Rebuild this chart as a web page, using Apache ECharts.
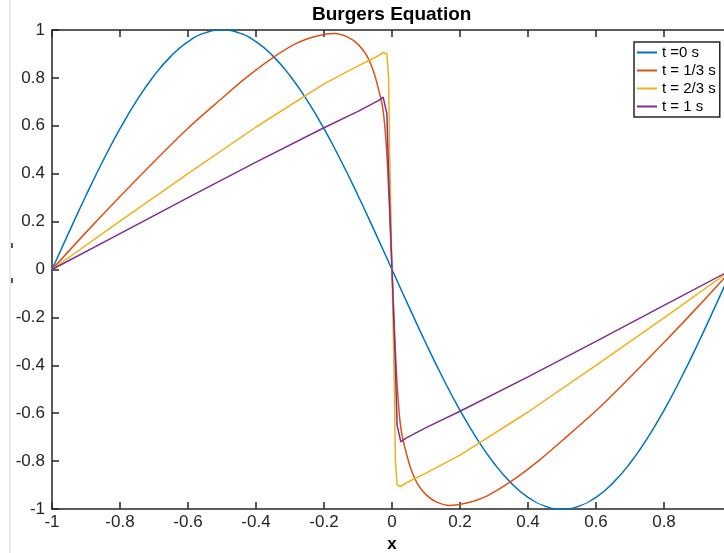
<!DOCTYPE html>
<html>
<head>
<meta charset="utf-8">
<title>Burgers Equation</title>
<script src="https://cdn.jsdelivr.net/npm/echarts@6/dist/echarts.min.js"></script>
<style>
    html, body { margin: 0; padding: 0; background: #fff; }
    #chart { width: 724px; height: 553px; }
</style>
</head>
<body>
<div id="chart"></div>
<script>
// 各时刻的解 u(x,t)
var seriesNames = ['t =0 s', 't = 1/3 s', 't = 2/3 s', 't = 1 s'];
var seriesColors = ['#0072BD', '#D95319', '#EDB120', '#7E2F8E'];

// t = 0
var x0 = [-1, -0.95, -0.9, -0.85, -0.8, -0.75, -0.7, -0.65, -0.6, -0.55, -0.5, -0.45, -0.4, -0.35, -0.3, -0.25, -0.2, -0.15, -0.1, -0.05, 0,
    0.05, 0.1, 0.15, 0.2, 0.25, 0.3, 0.35, 0.4, 0.45, 0.5, 0.55, 0.6, 0.65, 0.7, 0.75, 0.8, 0.85, 0.9, 0.95, 1];
var y0 = [0, 0.156, 0.309, 0.454, 0.588, 0.707, 0.809, 0.891, 0.951, 0.988, 1, 0.988, 0.951, 0.891, 0.809, 0.707, 0.588, 0.454, 0.309, 0.156, 0,
    -0.156, -0.309, -0.454, -0.588, -0.707, -0.809, -0.891, -0.951, -0.988, -1, -0.988, -0.951, -0.891, -0.809, -0.707, -0.588, -0.454, -0.309, -0.156, 0];

// t = 1/3
var x1 = [-1, -0.9, -0.8, -0.7, -0.6, -0.5, -0.43, -0.35, -0.28, -0.22, -0.17, -0.13, -0.1, -0.075, -0.055, -0.04, -0.028, -0.02, -0.012, -0.005, 0,
    0.005, 0.012, 0.02, 0.028, 0.04, 0.055, 0.075, 0.1, 0.13, 0.17, 0.22, 0.28, 0.35, 0.43, 0.5, 0.6, 0.7, 0.8, 0.9, 1];
var y1 = [0, 0.155, 0.305, 0.45, 0.59, 0.715, 0.8, 0.885, 0.945, 0.975, 0.985, 0.97, 0.94, 0.895, 0.83, 0.755, 0.68, 0.58, 0.4, 0.17, 0,
    -0.17, -0.4, -0.58, -0.68, -0.755, -0.83, -0.895, -0.94, -0.97, -0.985, -0.975, -0.945, -0.885, -0.8, -0.715, -0.59, -0.45, -0.305, -0.155, 0];

// t = 2/3
var x2 = [-1, -0.8, -0.6, -0.4, -0.2, -0.1, -0.05, -0.025, -0.015, -0.01, -0.007, 0,
    0.007, 0.01, 0.015, 0.025, 0.05, 0.1, 0.2, 0.4, 0.6, 0.8, 1];
var y2 = [0, 0.202, 0.4, 0.595, 0.775, 0.85, 0.885, 0.906, 0.9, 0.8, 0.5, 0,
    -0.5, -0.8, -0.9, -0.906, -0.885, -0.85, -0.775, -0.595, -0.4, -0.202, 0];

// t = 1
var x3 = [-1, -0.8, -0.6, -0.4, -0.2, -0.1, -0.04, -0.026, -0.015, -0.01, 0,
    0.01, 0.015, 0.026, 0.04, 0.1, 0.2, 0.4, 0.6, 0.8, 1];
var y3 = [0, 0.15, 0.3, 0.448, 0.592, 0.66, 0.705, 0.72, 0.65, 0.4, 0,
    -0.4, -0.65, -0.72, -0.705, -0.66, -0.592, -0.448, -0.3, -0.15, 0];

var xTicks = [-1, 1, 0.2];   // min, max, interval
var yTicks = [-1, 1, 0.2];

var fontName = 'Liberation Sans, Arial, Helvetica, sans-serif';
var axisColor = '#262626';

var pairs = function(xs, ys) {
    var out = [];
    for (var i = 0; i < xs.length; i++) {
        out.push([xs[i], ys[i]]);
    }
    return out;
};

var chart = echarts.init(document.getElementById('chart'), null, { renderer: 'canvas' });

var makeSeries = function(idx, xs, ys, smooth) {
    return {
        name: seriesNames[idx],
        type: 'line',
        data: pairs(xs, ys),
        showSymbol: false,
        symbol: 'none',
        smooth: smooth,
        lineStyle: { color: seriesColors[idx], width: 1.5 },
        itemStyle: { color: seriesColors[idx] },
        animation: false
    };
};

var option = {
    animation: false,
    backgroundColor: '#fff',
    title: {
        text: 'Burgers Equation',
        left: 312,
        top: 5,
        padding: 0,
        textStyle: { fontFamily: fontName, fontSize: 19, fontWeight: 'bold', color: '#000' }
    },
    legend: {
        orient: 'vertical',
        left: 634,
        top: 42,
        padding: [3, 4, 3, 3],
        itemGap: 3,
        itemWidth: 20,
        itemHeight: 2,
        icon: 'rect',
        backgroundColor: '#fff',
        borderColor: axisColor,
        borderWidth: 1.5,
        borderRadius: 0,
        textStyle: { fontFamily: fontName, fontSize: 15, color: '#000' },
        data: seriesNames
    },
    // 右端 x=1 落在画布外（原图被裁切）
    grid: { left: 52, top: 30, width: 680, height: 479, containLabel: false, outerBoundsMode: 'none' },
    xAxis: [{
        type: 'value',
        min: xTicks[0],
        max: xTicks[1],
        interval: xTicks[2],
        name: 'x',
        nameLocation: 'middle',
        nameGap: 26,
        nameTextStyle: { fontFamily: fontName, fontSize: 17, fontWeight: 'bold', color: '#000' },
        axisLine: { onZero: false, lineStyle: { color: axisColor, width: 1.5 } },
        axisTick: { inside: true, length: 7, lineStyle: { color: axisColor, width: 1.5 } },
        axisLabel: { margin: 5, fontFamily: fontName, fontSize: 17, color: axisColor },
        splitLine: { show: false }
    }, {
        type: 'value',
        position: 'top',
        min: xTicks[0],
        max: xTicks[1],
        interval: xTicks[2],
        axisLine: { onZero: false, lineStyle: { color: axisColor, width: 1.5 } },
        axisTick: { inside: true, length: 7, lineStyle: { color: axisColor, width: 1.5 } },
        axisLabel: { show: false },
        splitLine: { show: false }
    }],
    yAxis: [{
        type: 'value',
        min: yTicks[0],
        max: yTicks[1],
        interval: yTicks[2],
        axisLine: { show: true, onZero: false, lineStyle: { color: axisColor, width: 1.5 } },
        axisTick: { show: true, inside: true, length: 7, lineStyle: { color: axisColor, width: 1.5 } },
        axisLabel: { margin: 7, fontFamily: fontName, fontSize: 17, color: axisColor },
        splitLine: { show: false }
    }],
    graphic: [{
        type: 'line',
        shape: { x1: 10, y1: 0, x2: 10, y2: 553 },
        style: { stroke: '#e2e2e2', lineWidth: 1.5 },
        silent: true
    }, {
        type: 'rect',
        shape: { x: 11, y: 243, width: 2, height: 5 },
        style: { fill: '#555' },
        silent: true
    }, {
        type: 'rect',
        shape: { x: 11, y: 278, width: 2, height: 5 },
        style: { fill: '#555' },
        silent: true
    }],
    series: [
        makeSeries(0, x0, y0, true),
        makeSeries(1, x1, y1, 0.3),
        makeSeries(2, x2, y2, false),
        makeSeries(3, x3, y3, false)
    ]
};

chart.setOption(option);
</script>
</body>
</html>
